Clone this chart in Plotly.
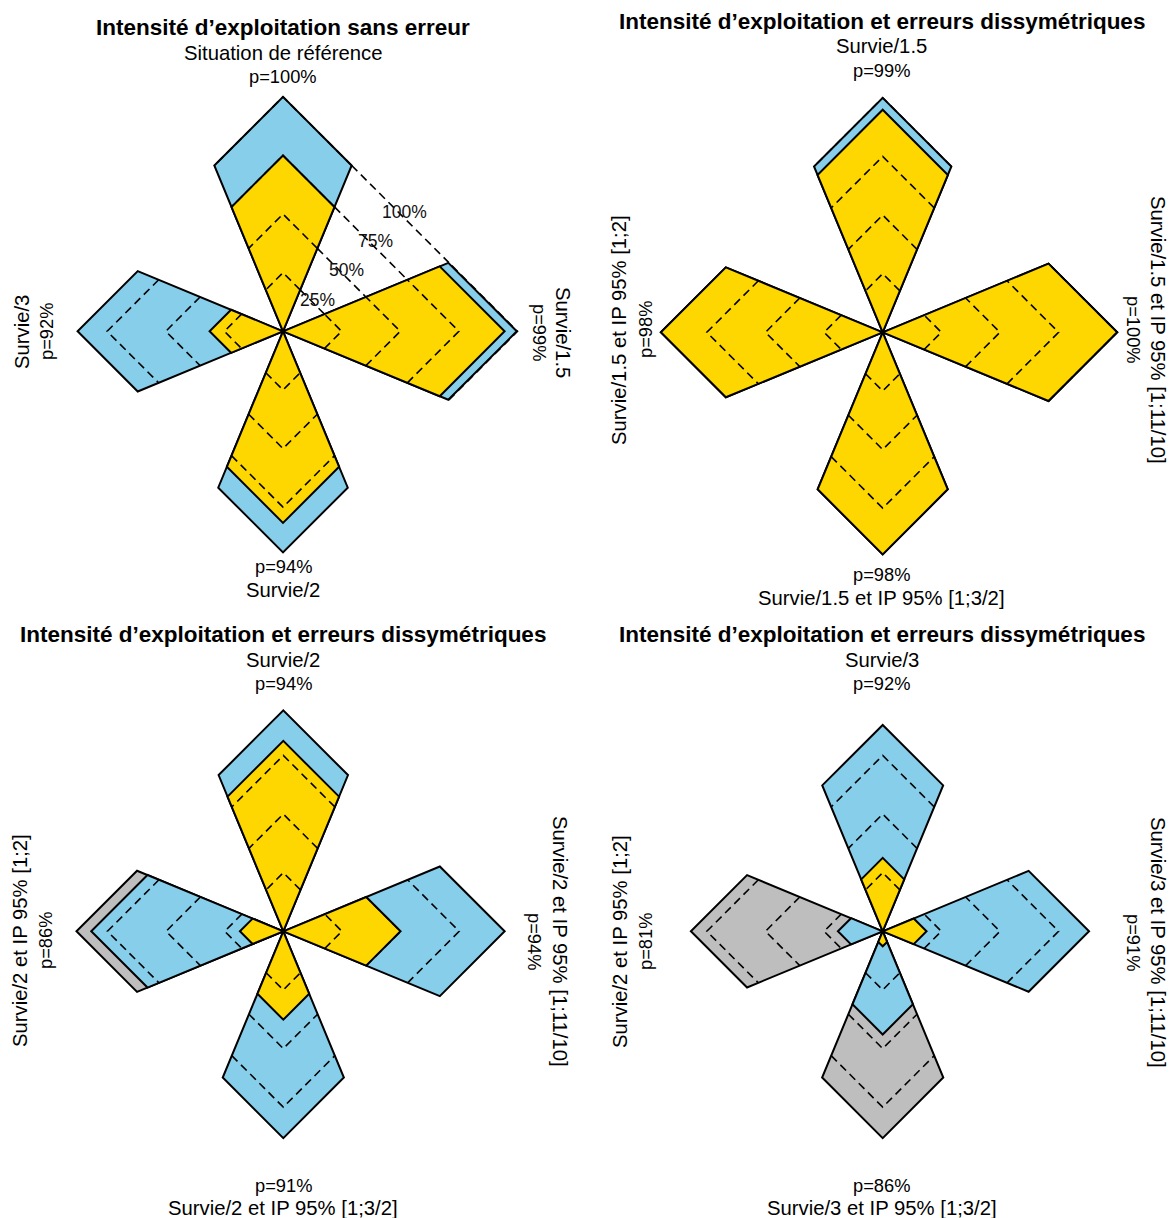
import math
import plotly.graph_objects as go

# ---------------- data (radii in % of the 100% reference) ----------------
# petal order: top, right, bottom, left
petal_angles = [90, 0, 270, 180]
ref_levels = [25, 50, 75, 100]

titles = [
    "Intensité d’exploitation sans erreur",
    "Intensité d’exploitation et erreurs dissymétriques",
    "Intensité d’exploitation et erreurs dissymétriques",
    "Intensité d’exploitation et erreurs dissymétriques",
]

labels_1 = ["Situation de référence", "Survie/1.5", "Survie/2", "Survie/3"]
labels_2 = ["Survie/1.5", "Survie/1.5 et IP 95% [1;11/10]",
            "Survie/1.5 et IP 95% [1;3/2]", "Survie/1.5 et IP 95% [1;2]"]
labels_3 = ["Survie/2", "Survie/2 et IP 95% [1;11/10]",
            "Survie/2 et IP 95% [1;3/2]", "Survie/2 et IP 95% [1;2]"]
labels_4 = ["Survie/3", "Survie/3 et IP 95% [1;11/10]",
            "Survie/3 et IP 95% [1;3/2]", "Survie/2 et IP 95% [1;2]"]

p_1 = [100, 99, 94, 92]
p_2 = [99, 100, 98, 98]
p_3 = [94, 94, 91, 86]
p_4 = [92, 91, 86, 81]

yellow_1 = [75, 94.5, 81.7, 31.3]
blue_1 = [100, 99.7, 94.3, 87.6]
gray_1 = [0, 0, 0, 0]

yellow_2 = [94.9, 100, 94.7, 94.6]
blue_2 = [100, 100, 94.7, 94.6]
gray_2 = [0, 0, 0, 0]

yellow_3 = [81.2, 50, 37.7, 18.5]
blue_3 = [94.2, 94.4, 88.2, 81.9]
gray_3 = [0, 0, 0, 88.2]

yellow_4 = [31.3, 18.7, 6.4, 0]
blue_4 = [88, 88, 44, 19.1]
gray_4 = [0, 0, 88.2, 81.8]

panels_labels = [labels_1, labels_2, labels_3, labels_4]
panels_p = [p_1, p_2, p_3, p_4]
panels_yellow = [yellow_1, yellow_2, yellow_3, yellow_4]
panels_blue = [blue_1, blue_2, blue_3, blue_4]
panels_gray = [gray_1, gray_2, gray_3, gray_4]

# ---------------- layout / style ----------------
W, H = 1173, 1218
PX = 2.345  # pixels per % unit
FONT = "Liberation Sans, Arial, sans-serif"
COL_Y, COL_B, COL_G = "#FFD700", "#87CEEB", "#BEBEBE"

centers = [(283.0, 331.3), (882.7, 332.3), (283.3, 931.3), (882.7, 931.3)]
regions = [(0, 586, 0, 609), (587, 1173, 0, 609), (0, 586, 609, 1218), (587, 1173, 609, 1218)]
# title_y, top_lab_y, top_p_y, bot_p_y, bot_lab_y, left_lab_x, left_p_x, right_p_x, right_lab_x, side_y, cx
text_pos = [
    (28, 53, 77, 567, 590, 22, 46, 540, 563, 332, 283),
    (22, 46, 71, 575, 598, 619, 645, 1134, 1158, 330, 882),
    (634, 660, 683, 1185, 1208, 20, 45, 535, 560, 941, 283),
    (634, 660, 683, 1185, 1208, 620, 645, 1134, 1158, 942, 882),
]


def diamond_pt(ang_deg, r):
    a = math.radians(ang_deg)
    rr = r / (abs(math.cos(a)) + abs(math.sin(a)))
    return rr * math.cos(a), rr * math.sin(a)


def petal_xy(theta, r):
    pts = [diamond_pt(theta + d, r) for d in (-22.5, 0, 22.5)]
    xs = [0] + [p[0] for p in pts] + [0]
    ys = [0] + [p[1] for p in pts] + [0]
    return xs, ys


fig = go.Figure()
annotations = []

for i in range(4):
    ax = "" if i == 0 else str(i + 1)
    xr, yr = "x" + ax, "y" + ax
    cx, cy = centers[i]
    x0, x1, y0, y1 = regions[i]
    fig.update_layout(**{
        "xaxis" + ax: dict(domain=[x0 / W, x1 / W], range=[(x0 - cx) / PX, (x1 - cx) / PX],
                           visible=False, fixedrange=True),
        "yaxis" + ax: dict(domain=[1 - y1 / H, 1 - y0 / H], range=[(cy - y1) / PX, (cy - y0) / PX],
                           visible=False, fixedrange=True),
    })

    dx, dy = [], []
    for j, th in enumerate(petal_angles):
        layers = [(panels_gray[i][j], COL_G), (panels_blue[i][j], COL_B), (panels_yellow[i][j], COL_Y)]
        for val, col in layers:
            if val <= 0:
                continue
            xs, ys = petal_xy(th, val)
            fig.add_trace(go.Scatter(x=xs, y=ys, xaxis=xr, yaxis=yr, mode="lines", fill="toself",
                                     fillcolor=col, line=dict(color="black", width=2),
                                     hoverinfo="skip", showlegend=False))
        outer = max(v for v, _ in layers)
        for L in ref_levels:
            if L <= outer + 0.5:
                pts = [diamond_pt(th + d, L) for d in (-22.5, 0, 22.5)]
                dx += [p[0] for p in pts] + [None]
                dy += [p[1] for p in pts] + [None]
    if i == 0:
        for L in ref_levels:
            a = diamond_pt(67.5, L)
            b = diamond_pt(22.5, L)
            dx += [a[0], b[0], None]
            dy += [a[1], b[1], None]
            m = diamond_pt(45, L)
            annotations.append(dict(text=f"{L}%", x=m[0] + 2.0, y=m[1] + 1.0, xref=xr, yref=yr,
                                    showarrow=False, xanchor="center", yanchor="middle",
                                    font=dict(family=FONT, size=17.5, color="#111")))
    fig.add_trace(go.Scatter(x=dx, y=dy, xaxis=xr, yaxis=yr, mode="lines",
                             line=dict(color="black", width=1.6, dash="8px,5px"),
                             hoverinfo="skip", showlegend=False))

    ty, tly, tpy, bpy, bly, llx, lpx, rpx, rlx, sy, tcx = text_pos[i]
    labs = panels_labels[i]
    ps = panels_p[i]

    def ann(text, px, py, size, angle=0, bold=False):
        annotations.append(dict(text=f"<b>{text}</b>" if bold else text, x=px / W, y=1 - py / H,
                                xref="paper", yref="paper", showarrow=False,
                                xanchor="center", yanchor="middle", textangle=angle,
                                font=dict(family=FONT, size=size, color="#000")))

    ann(titles[i], tcx, ty, 22.5, bold=True)
    ann(labs[0], tcx, tly, 20.3)
    ann(f"p={ps[0]}%", tcx, tpy, 18.3)
    ann(f"p={ps[2]}%", tcx, bpy, 18.3)
    ann(labs[2], tcx, bly, 20.3)
    ann(labs[3], llx, sy, 20.3, angle=-90)
    ann(f"p={ps[3]}%", lpx, sy, 18.3, angle=-90)
    ann(f"p={ps[1]}%", rpx, sy, 18.3, angle=90)
    ann(labs[1], rlx, sy, 20.3, angle=90)

fig.update_layout(width=W, height=H, margin=dict(l=0, r=0, t=0, b=0),
                  paper_bgcolor="white", plot_bgcolor="white",
                  annotations=annotations, showlegend=False)

fig.write_html("out.html", config={"displayModeBar": False},
               post_script="document.body.style.margin='0';document.body.style.overflow='hidden';")
